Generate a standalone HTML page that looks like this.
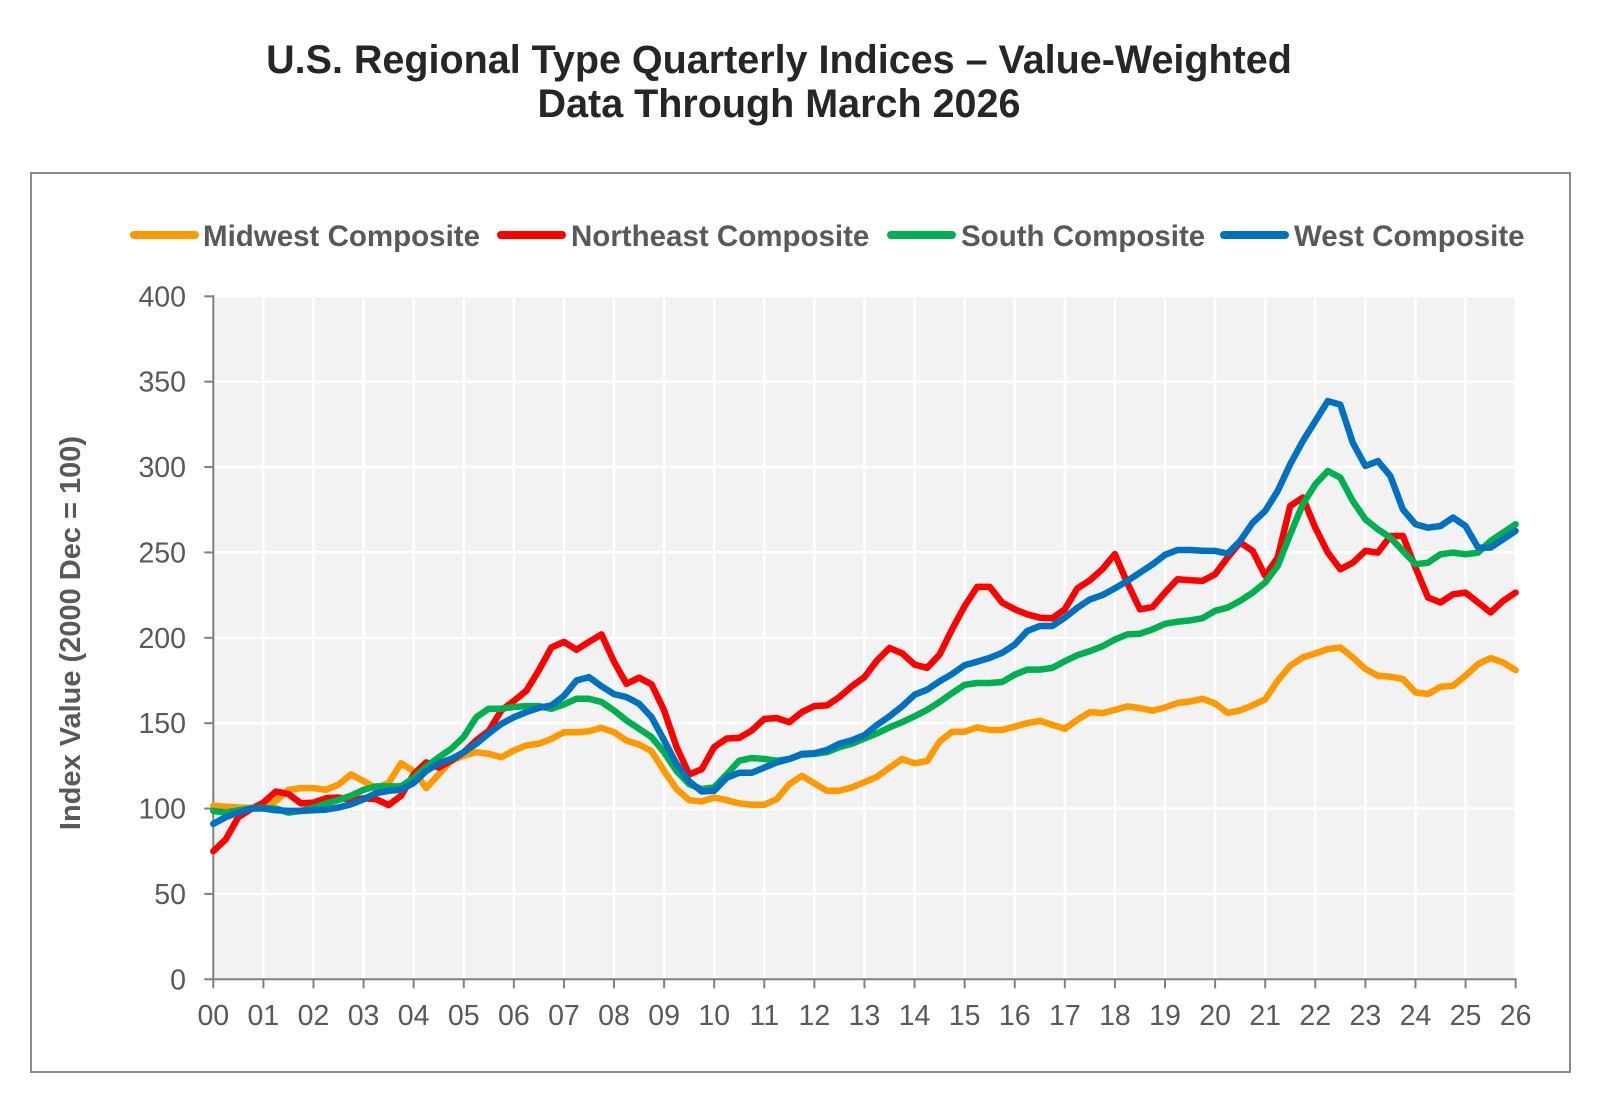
<!DOCTYPE html>
<html>
<head>
<meta charset="utf-8">
<style>
html,body{margin:0;padding:0;background:#fff;}
body{width:1600px;height:1099px;overflow:hidden;}
svg{display:block;}
text{font-family:"Liberation Sans",Arial,sans-serif;}
</style>
</head>
<body>
<svg id="c" width="1600" height="1099" viewBox="0 0 1600 1099" xmlns="http://www.w3.org/2000/svg">
  <rect x="0" y="0" width="1600" height="1099" fill="#ffffff"/>
  <!-- Title -->
  <text x="779" y="73" text-anchor="middle" font-size="39.5" font-weight="bold" fill="#262626">U.S. Regional Type Quarterly Indices – Value-Weighted</text>
  <text x="779" y="117" text-anchor="middle" font-size="39.5" font-weight="bold" fill="#262626">Data Through March 2026</text>

  <!-- Chart box -->
  <rect x="31" y="173" width="1539" height="899" fill="#ffffff" stroke="#8a8a8a" stroke-width="2"/>

  <!-- Legend -->
  <g stroke-width="8" stroke-linecap="round">
    <line x1="134" y1="235" x2="195" y2="235" stroke="#FF9900"/>
    <line x1="501" y1="235" x2="562" y2="235" stroke="#FF0000"/>
    <line x1="891" y1="235" x2="952" y2="235" stroke="#00B050"/>
    <line x1="1224" y1="235" x2="1285" y2="235" stroke="#0070C0"/>
  </g>
  <g font-size="29.5" font-weight="bold" fill="#595959">
    <text x="203" y="246">Midwest Composite</text>
    <text x="571" y="246">Northeast Composite</text>
    <text x="961" y="246">South Composite</text>
    <text x="1294" y="246">West Composite</text>
  </g>

  <!-- Plot area -->
  <rect x="213.3" y="296.3" width="1302.4" height="683" fill="#F2F2F2"/>
  <g id="grid" stroke="#ffffff" stroke-width="2.5"></g>
  <g id="axes" stroke="#808080" stroke-width="2" fill="none"></g>
  <g id="ylab" font-size="28.5" fill="#595959" text-anchor="end"></g>
  <g id="xlab" font-size="28.5" fill="#595959" text-anchor="middle"></g>

  <text transform="translate(80,633) rotate(-90)" text-anchor="middle" font-size="29" font-weight="bold" fill="#595959">Index Value (2000 Dec = 100)</text>

  <g id="series" fill="none" stroke-width="6.5" stroke-linejoin="round" stroke-linecap="round"></g>
</svg>
<script>
(function(){
var NS="http://www.w3.org/2000/svg";
var X0=213.3, XS=50.09, Y0=979.3, YS=1.7075;
function X(t){return X0+t*XS;}
function Y(v){return Y0-v*YS;}
function el(tag,attrs,parent,txt){var e=document.createElementNS(NS,tag);for(var k in attrs)e.setAttribute(k,attrs[k]);if(txt!==undefined)e.textContent=txt;parent.appendChild(e);return e;}
var grid=document.getElementById('grid'), axes=document.getElementById('axes');
var ylab=document.getElementById('ylab'), xlab=document.getElementById('xlab');
for(var v=50;v<=400;v+=50){el('line',{x1:X0,y1:Y(v),x2:X(26),y2:Y(v)},grid);}
for(var i=1;i<=26;i++){el('line',{x1:X(i),y1:Y(400),x2:X(i),y2:Y0},grid);}
el('line',{x1:X0,y1:Y(400)-1,x2:X0,y2:Y0+1},axes);
el('line',{x1:X0-1,y1:Y0,x2:X(26)+1,y2:Y0},axes);
for(var v=0;v<=400;v+=50){el('line',{x1:X0-9,y1:Y(v),x2:X0,y2:Y(v)},axes);el('text',{x:186,y:Y(v)+10},ylab,String(v));}
for(var i=0;i<=26;i++){el('line',{x1:X(i),y1:Y0,x2:X(i),y2:Y0+9},axes);var s=(i<10?'0':'')+i;el('text',{x:X(i),y:1025},xlab,s);}
var mw=[101.6,101,100.6,100.5,100.5,104.5,111,112,112,111,114,120,116,112,115,126.5,122,112,120,128,131,133,132,130,134,137,138,140.8,144.7,144.7,145.3,147.3,144.7,139.8,137.5,133.5,122,111.4,104.9,104.1,106.5,104.9,103,102.2,102.2,105.5,114.3,119.2,114.7,110.4,110.4,112.4,115.5,118.6,123.9,129,126.5,127.8,139.2,145,145,147.5,146,146,148,150,151.4,149,146.7,152,156.5,155.9,157.8,159.8,158.8,157.3,159.2,161.8,162.7,164.3,161.6,156,157.5,160.5,164,174.9,183.6,188.5,190.8,193.4,194.3,188.5,181.7,177.8,177.2,175.8,168,167.1,171.3,171.9,177.8,184.6,188.1,185.6,181.1];
var ne=[75,82,95,99.6,103.5,110,108.5,103,103.5,106,106.5,105,106,105.5,102,107.5,120,127,124,128,133,140,145.5,157.5,163,169,181,194.3,197.6,193,197.6,202,186,173,176.7,172.7,157.5,136,120,123,136,141,141.4,145.7,152.5,153,150.6,156.5,160,160.4,165.3,171.6,177,186.7,194,191,184.3,182.4,190.2,205,218.6,229.8,229.8,220.6,216.7,213.7,211.8,211.4,216.7,229,233.7,240.2,249,232,216.7,218,226.5,234.3,233.7,233.3,237.2,247,255.8,250.9,236.3,247,277.2,282.1,264.5,249.9,240.2,244,250.9,249.9,259.6,259.6,241.1,223.6,220.7,225.5,226.5,220.7,214.8,221.6,226.5];
var so=[98.6,97.6,99,100,100.5,100,97.6,98.6,100.5,103,105,107.5,111,113,113,113,118,124.5,130,135,142,153.5,158.5,158.5,159.5,160,160,158.4,161,164.3,164.3,162.4,157.5,151.6,146.7,141.8,133,122,114.3,111.4,112.4,120,128,129.6,129,128,129,131.6,132,133,136,138,141,144,147.5,150.6,154,157.8,162.4,167.6,172.5,173.5,173.5,174.1,178.4,181.4,181.4,182.4,186.3,189.8,192.2,195,199,202,202.4,204.9,208.2,209.4,210.2,211.5,215.8,217.7,221.6,226.5,232.4,242.1,260.6,278.2,289.9,297.7,293.8,280.1,269.4,263.5,258.7,250.9,243.1,244,248.9,249.9,248.9,249.9,256.7,261.6,266.5];
var we=[91,95,97.6,100,100,99,98.6,98.6,99,99.4,100.6,102.5,105.5,109,110.4,111,115,122,126.5,129,133,138,144,149.6,153.5,156.5,159,160.4,166,175,177,171.6,167,165.3,161.4,153.5,140,126,116,110,110.4,118,121,121,124,127,129,132,132.4,134.3,138,140,143,149,154,159.8,166.7,169.6,174.5,178.8,184,186,188.2,191.2,196,204,206.9,206.9,211.8,217.6,222.5,225,229,233.3,238.2,243,248.6,251.4,251.4,251,250.9,249.3,256.7,267.4,274.3,286,301.6,315.2,326.9,338.6,336.6,314.2,300.6,303.5,294.7,275.2,266.5,264.5,265.5,270.4,265.5,252.8,252.8,257.7,262.6];
var ser=document.getElementById('series');
[[mw,'#FF9900'],[ne,'#FF0000'],[so,'#00B050'],[we,'#0070C0']].forEach(function(p){
  var pts=p[0].map(function(v,i){return X(i*0.25).toFixed(1)+','+Y(v).toFixed(1);}).join(' ');
  el('polyline',{points:pts,stroke:p[1]},ser);
});
})();
</script>
</body>
</html>
